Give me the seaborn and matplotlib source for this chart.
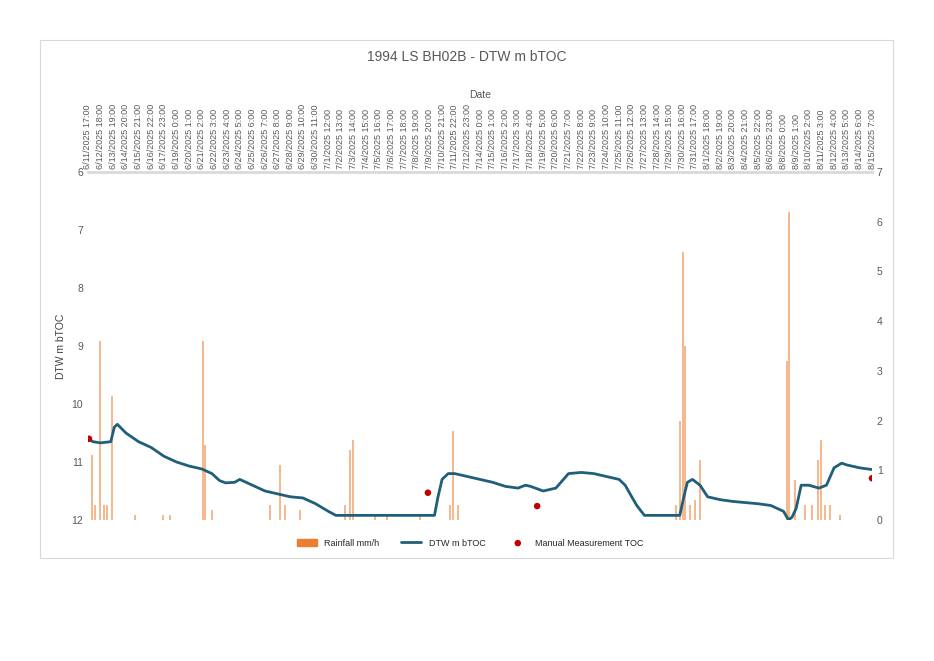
import matplotlib
matplotlib.use("Agg")
import matplotlib.pyplot as plt
import seaborn as sns
import pandas as pd
from matplotlib.patches import Rectangle, Patch

sns.set_style("white")
plt.rcParams['font.family'] = ['Liberation Sans', 'DejaVu Sans']

tick_labels = [f"{d.month}/{d.day}/{d.year} {d.hour}:00" for d in
               pd.date_range("2025-06-11 17:00", "2025-08-15 07:00", freq="25h")]

# water level (hours since start, m bTOC)
dtw_hours = [0, 10, 25, 45, 52, 58, 75, 100, 125, 150, 175, 200, 225, 245, 260, 272, 290, 300,
             325, 350, 375, 400, 425, 450, 475, 490, 525, 550, 600, 650, 675, 685, 692, 700,
             712, 725, 750, 775, 800, 825, 850, 865, 875, 900, 925, 940, 950, 975, 1000,
             1025, 1050, 1062, 1075, 1085, 1100, 1150, 1170, 1178, 1185, 1195, 1210, 1225,
             1250, 1275, 1300, 1325, 1350, 1375, 1385, 1392, 1400, 1410, 1425, 1445, 1460,
             1475, 1490, 1500, 1525, 1550]
dtw_vals = [10.6, 10.65, 10.67, 10.65, 10.4, 10.35, 10.5, 10.65, 10.75, 10.9, 11.0, 11.07, 11.12,
            11.2, 11.32, 11.36, 11.35, 11.3, 11.4, 11.5, 11.55, 11.6, 11.62, 11.72, 11.85, 11.92,
            11.92, 11.92, 11.92, 11.92, 11.92, 11.92, 11.6, 11.3, 11.2, 11.2, 11.25, 11.3,
            11.35, 11.42, 11.45, 11.4, 11.42, 11.5, 11.45, 11.3, 11.2, 11.18, 11.2, 11.25, 11.3,
            11.4, 11.6, 11.75, 11.92, 11.92, 11.92, 11.6, 11.35, 11.3, 11.4, 11.6, 11.65,
            11.68, 11.7, 11.72, 11.75, 11.85, 12.0, 11.95, 11.8, 11.4, 11.4, 11.45, 11.4, 11.1,
            11.02, 11.05, 11.1, 11.13]

rain_hours = [8, 14, 24, 32, 38, 47, 93, 148, 162, 227, 231, 245, 360, 379, 389, 419, 508, 518,
              524, 567, 591, 656, 715, 721, 731, 1162, 1170, 1176, 1180, 1190, 1200, 1209, 1381,
              1385, 1397, 1417, 1431, 1443, 1450, 1458, 1466, 1486]
rain_vals = [1.3, 0.3, 3.6, 0.3, 0.3, 2.5, 0.1, 0.1, 0.1, 3.6, 1.5, 0.2, 0.3, 1.1, 0.3, 0.2, 0.3,
             1.4, 1.6, 0.1, 0.1, 0.1, 0.3, 1.8, 0.3, 0.3, 2.0, 5.4, 3.5, 0.3, 0.4, 1.2, 3.2, 6.2,
             0.8, 0.3, 0.3, 1.2, 1.6, 0.3, 0.3, 0.1]

manual_hours = [2, 672, 888, 1550]
manual_vals = [10.6, 11.53, 11.76, 11.28]

df = pd.DataFrame({"h": dtw_hours, "v": dtw_vals})
mdf = pd.DataFrame({"h": manual_hours, "v": manual_vals})

fig = plt.figure(figsize=(9.34, 6.61), dpi=100)
fig.patches.append(Rectangle((40/934, 1-558/661), 853/934, 518/661, transform=fig.transFigure,
                             fill=False, edgecolor="#d9d9d9", lw=0.8))
ax = fig.add_axes([88/934, 1-520/661, 784/934, 348/661])
ax2 = ax.twinx()
ax.set_zorder(2)
ax.patch.set_visible(False)

ax2.vlines(rain_hours, 0, rain_vals, color="#f4b183", lw=1.3)
sns.lineplot(data=df, x="h", y="v", ax=ax, color="#1f5f7a", lw=2, label="DTW m bTOC")
sns.scatterplot(data=mdf, x="h", y="v", ax=ax, color="#c00000", s=22, edgecolor="none",
                label="Manual Measurement TOC", zorder=5)

ax.set_xlim(0, 1550)
ax.set_ylim(12, 6)
ax.set_yticks(range(6, 13))
ax2.set_xlim(0, 1550)
ax2.set_ylim(0, 7)
ax2.set_yticks(range(0, 8))
ax.set_xticks([25 * i for i in range(len(tick_labels))])
ax.set_xticklabels(tick_labels, rotation=90, fontsize=6.5, color="#595959")
ax.xaxis.tick_top()
ax.xaxis.set_label_position("top")
ax.set_xlabel("Date", fontsize=7.5, color="#595959", labelpad=4)
ax.set_ylabel("DTW m bTOC", fontsize=7.5, color="#404040")
for a in (ax, ax2):
    a.tick_params(axis="y", labelsize=7.5, colors="#595959", length=0)
    for s in a.spines.values():
        s.set_visible(False)
ax.tick_params(axis="x", length=0, pad=2)
ax.spines["top"].set_visible(True)
ax.spines["top"].set_color("#d9d9d9")
ax.spines["top"].set_linewidth(2)

ax.get_legend().remove()
h, l = ax.get_legend_handles_labels()
handles = [Patch(color="#ed7d31")] + h
labels = ["Rainfall mm/h"] + l
fig.legend(handles, labels, loc="center", bbox_to_anchor=(470/934, 1-543/661), ncol=3,
           frameon=False, fontsize=6.5, handlelength=2.2, columnspacing=2.5)
fig.text(467/934, 1-57/661, "1994 LS BH02B - DTW m bTOC", ha="center", va="center",
         fontsize=10, color="#595959")
fig.savefig("out.png", dpi=100)
